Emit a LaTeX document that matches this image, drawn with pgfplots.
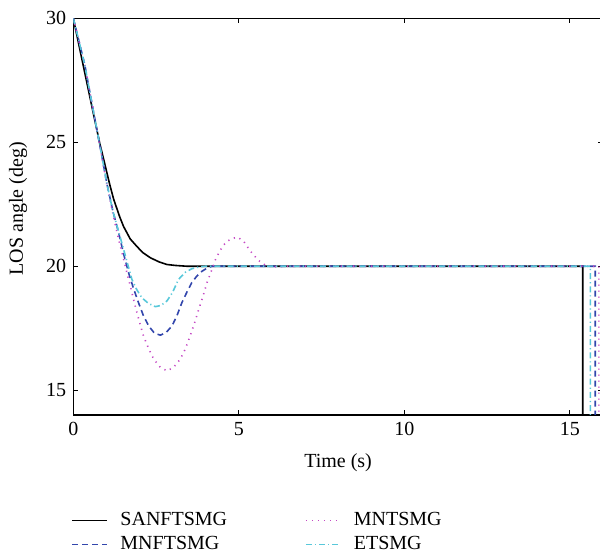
\documentclass[border=0pt]{standalone}
\usepackage{pgfplots}
\pgfplotsset{compat=1.18}
\usepackage{fontspec}
\setmainfont{Liberation Serif}
\definecolor{cblue}{RGB}{50,70,172}
\definecolor{cpink}{RGB}{196,72,196}
\definecolor{ccyan}{RGB}{88,200,218}
\begin{document}
\begin{tikzpicture}
\useasboundingbox (-36.65pt,-68pt) rectangle (263.35pt,207.5pt);
\begin{axis}[
  at={(0,0)}, anchor=south west,
  scale only axis, width=264.8pt, height=198.35pt,
  xmin=0, xmax=16, ymin=14, ymax=30,
  xtick={0,5,10,15}, ytick={15,20,25,30},
  tick align=inside, major tick length=2.5pt,
  tick style={black, line width=0.5pt},
  axis line style={line width=0.6pt},
  font=\fontsize{10}{12}\selectfont,
  /pgf/number format/assume math mode=true,
  xlabel={Time (s)}, ylabel={LOS angle (deg)},
  every axis x label/.style={at={(axis description cs:0.5,0)}, anchor=center, yshift=-24pt},
  every axis y label/.style={at={(axis description cs:-0.104,0.52)}, anchor=center, rotate=90},
  legend columns=2, transpose legend,
  legend cell align=left,
  legend style={draw=none, fill=none, at={(axis description cs:0,0)}, anchor=north west, yshift=-47pt, xshift=-1pt, inner sep=0pt,
    nodes={inner sep=1pt, text height=7pt, text depth=2pt, font=\fontsize{10}{12}\selectfont},
    row sep=1pt,
    /tikz/every even column/.append style={column sep=38pt},
    /tikz/every odd column/.append style={column sep=5.5pt}},
  legend image code/.code={\draw[#1] (0cm,0cm) -- (0.6cm,0cm);},
]
\addplot[black, line width=0.8pt] coordinates {
(0,30) (0.3,28.1) (0.6,26.2) (0.8,24.95) (0.92,24.3) (1.1,23.3) (1.22,22.7) (1.4,22.0) (1.52,21.6) (1.72,21.1) (1.92,20.8) (2.1,20.55) (2.33,20.34) (2.6,20.17) (2.83,20.07) (3.1,20.03) (3.43,20.0) (15.39,20.0) (15.39,13)
};
\addlegendentry{SANFTSMG}
\addplot[cblue, line width=0.8pt, dash pattern=on 3pt off 2pt] coordinates {
(0,30) (0.15,29.2) (0.35,28.1) (0.6,26.3) (0.82,24.75) (1.02,23.3) (1.2,22.2) (1.37,21.35) (1.52,20.5) (1.67,19.74) (1.82,19.1) (1.97,18.53) (2.12,18.0) (2.28,17.59) (2.45,17.3) (2.63,17.22) (2.8,17.32) (2.98,17.59) (3.13,18.0) (3.28,18.53) (3.43,18.95) (3.58,19.34) (3.73,19.6) (3.89,19.8) (4.05,19.93) (4.19,20.0) (15.77,20.0) (15.77,13)
};
\addlegendentry{MNFTSMG}
\addplot[cpink, line width=0.8pt, dash pattern=on 0.6pt off 2.4pt] coordinates {
(0,30) (0.15,29.2) (0.35,28.1) (0.6,26.3) (0.82,24.75) (1.02,23.25) (1.2,22.1) (1.37,21.08) (1.5,20.4) (1.62,19.74) (1.75,19.05) (1.87,18.4) (2.0,17.75) (2.12,17.19) (2.27,16.7) (2.43,16.25) (2.63,15.92) (2.83,15.78) (3.03,15.92) (3.23,16.25) (3.38,16.65) (3.53,17.19) (3.66,17.7) (3.79,18.26) (3.92,18.8) (4.04,19.34) (4.17,19.8) (4.29,20.25) (4.42,20.6) (4.54,20.85) (4.64,21.0) (4.8,21.12) (4.97,21.17) (5.15,21.0) (5.35,20.61) (5.6,20.23) (5.85,20.0) (6.1,19.98) (6.5,20.0) (15.88,20.0) (15.88,13)
};
\addlegendentry{MNTSMG}
\addplot[ccyan, line width=0.8pt, dash pattern=on 3pt off 1.5pt on 0.6pt off 1.5pt] coordinates {
(0,30) (0.15,29.2) (0.35,28.1) (0.6,26.3) (0.82,24.75) (1.02,23.3) (1.2,22.2) (1.37,21.4) (1.52,20.68) (1.65,20.05) (1.77,19.47) (1.92,19.05) (2.07,18.73) (2.27,18.5) (2.48,18.37) (2.65,18.42) (2.83,18.6) (3.0,18.95) (3.18,19.47) (3.38,19.75) (3.58,19.9) (3.8,19.97) (3.99,20.0) (15.62,20.0) (15.62,13)
};
\addlegendentry{ETSMG}
\end{axis}
\end{tikzpicture}
\end{document}
